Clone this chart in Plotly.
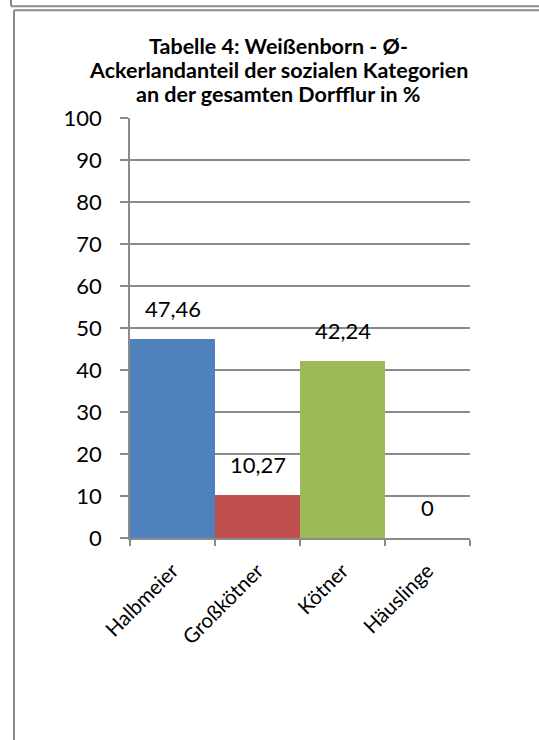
import plotly.graph_objects as go

categories = ["Halbmeier", "Großkötner", "Kötner", "Häuslinge"]
values = [47.46, 10.27, 42.24, 0]
colors = ["#4F81BD", "#C0504D", "#9BBB59", "#8064A2"]
y_ticks = [0, 10, 20, 30, 40, 50, 60, 70, 80, 90, 100]
title_lines = ["Tabelle 4: Weißenborn - Ø-",
               "Ackerlandanteil der sozialen Kategorien",
               "an der gesamten Dorfflur in %"]

W, H = 539, 740
L, R = 130, 470
T, B = 117.5, 538

def px_x(p):
    return (p - L) / (R - L)

def px_y(p):
    return (B - p) / (B - T)

labels = [("%g" % v).replace(".", ",") for v in values]

fig = go.Figure()
fig.add_trace(go.Bar(
    x=categories, y=values,
    marker=dict(color=colors, line=dict(width=0)),
    width=1.0,
    hoverinfo="skip",
))

for c, v, t in zip(categories, values, labels):
    fig.add_annotation(x=c, y=v, text=t, showarrow=False, yanchor="bottom",
                       yshift=15, font=dict(family="Lato", size=22, color="#000000"))

for i, line in enumerate(title_lines):
    fig.add_annotation(xref="paper", yref="paper", x=px_x(278), y=px_y(45 + 24 * i),
                       xanchor="center", yanchor="middle", showarrow=False, text=line,
                       font=dict(family="Lato", size=21.5, color="#000000", weight="bold"))

border = "#8a8a8a"
shapes = [
    dict(type="line", xref="paper", yref="paper", x0=px_x(11), x1=px_x(545), y0=px_y(5.5), y1=px_y(5.5),
         line=dict(color=border, width=2)),
    dict(type="line", xref="paper", yref="paper", x0=px_x(11), x1=px_x(11), y0=px_y(-5), y1=px_y(5.5),
         line=dict(color=border, width=2)),
    dict(type="line", xref="paper", yref="paper", x0=px_x(14), x1=px_x(545), y0=px_y(9.5), y1=px_y(9.5),
         line=dict(color=border, width=2)),
    dict(type="line", xref="paper", yref="paper", x0=px_x(14), x1=px_x(14), y0=px_y(9.5), y1=px_y(745),
         line=dict(color=border, width=2)),
]

fig.update_layout(
    width=W, height=H,
    margin=dict(l=L, r=W - R, t=T, b=H - B, pad=0),
    paper_bgcolor="white", plot_bgcolor="white",
    bargap=0,
    showlegend=False,
    shapes=shapes,
    font=dict(family="Lato", size=22, color="#000000"),
)

fig.update_yaxes(
    range=[0, 100], tickvals=y_ticks, ticktext=[str(v) for v in y_ticks],
    showgrid=True, gridcolor="#8a8a8a", gridwidth=1.5,
    showline=True, linecolor="#8a8a8a", linewidth=1.5,
    ticks="outside", ticklen=8, tickcolor="#8a8a8a", tickwidth=1.5,
    ticklabelstandoff=14,
    tickfont=dict(family="Lato", size=22, color="#000000"),
    zeroline=False, fixedrange=True,
)
fig.update_xaxes(
    type="category", range=[-0.5, 3.5],
    showline=True, linecolor="#8a8a8a", linewidth=1.5,
    ticks="outside", ticklen=6, tickcolor="#8a8a8a", tickwidth=1.5, tickson="boundaries",
    tickangle=-45, ticklabelstandoff=11,
    tickfont=dict(family="Lato", size=20.5, color="#000000"),
    showgrid=False, fixedrange=True,
)

fig.write_html("out.html", config={"displayModeBar": False},
               post_script="document.body.style.margin='0';")
